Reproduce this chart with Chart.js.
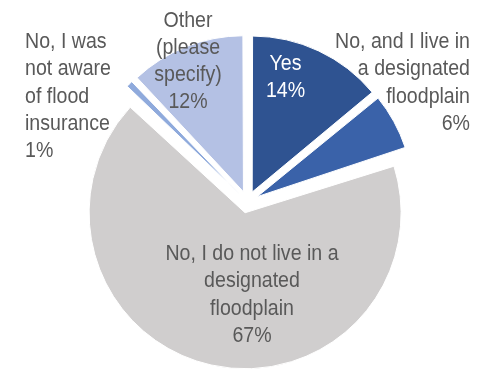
<!DOCTYPE html>
<html>
<head>
<meta charset="utf-8">
<script src="https://cdn.jsdelivr.net/npm/chart.js@4.4.1/dist/chart.umd.min.js"></script>
<style>
  html, body { margin: 0; padding: 0; background: #fff; }
  #wrap { width: 487px; height: 372px; position: relative; }
</style>
</head>
<body>
<div id="wrap"><canvas id="graficoTorta"></canvas></div>
<script>
// respuestas de la encuesta sobre seguro de inundación
const categorias = [
    'Yes',
    'No, and I live in a designated floodplain',
    'No, I do not live in a designated floodplain',
    'No, I was not aware of flood insurance',
    'Other (please specify)'
];
const porcentajes = [14, 6, 67, 1, 12];
const colores = ['#2f5391', '#3a62a9', '#d0cece', '#8faadc', '#b4c1e4'];

// texto de cada etiqueta, partido en renglones
const lineasEtiqueta = [
    ['Yes'],
    ['No, and I live in', 'a designated', 'floodplain'],
    ['No, I do not live in a', 'designated', 'floodplain'],
    ['No, I was', 'not aware', 'of flood', 'insurance'],
    ['Other', '(please', 'specify)']
];

// ubicación de las etiquetas respecto al centro del gráfico
const posEtiquetas = [
    { dx: 38, dy: -132, align: 'center', color: '#ffffff' },
    { dx: 222.5, dy: -154, align: 'right', color: '#595959' },
    { dx: 4.5, dy: 58, align: 'center', color: '#595959' },
    { dx: -222.5, dy: -154, align: 'left', color: '#595959' },
    { dx: -59.5, dy: -175.5, align: 'center', color: '#595959' }
];

const radioTorta = 156;
const separacion = 44;   // chart.js desplaza offset/4 px
const escalaX = 0.89;    // letra angosta: Liberation Sans comprimida

// chart.js agranda el radio de las porciones desplazadas; se deja igual para todas
const pluginRadio = {
    id: 'radioParejo',
    afterDatasetUpdate(chart, args) {
        args.meta.data.forEach(arco => {
            const fix = 1 - Math.sin(Math.min(Math.PI, arco.circumference || 0));
            arco.outerRadius = radioTorta - (separacion / 4) * fix;
        });
    }
};

const pluginEtiquetas = {
    id: 'etiquetas',
    afterDatasetsDraw(chart) {
        const ctx = chart.ctx;
        const arco = chart.getDatasetMeta(0).data[0];
        const cx = arco.x, cy = arco.y;
        const valores = chart.data.datasets[0].data;
        ctx.save();
        ctx.font = '22px "Liberation Sans", Arial, sans-serif';
        ctx.textBaseline = 'alphabetic';
        const alto = 27.3;
        lineasEtiqueta.forEach((lineas, i) => {
            const p = posEtiquetas[i];
            const todas = lineas.concat([valores[i] + '%']);
            ctx.fillStyle = p.color;
            ctx.textAlign = p.align;
            todas.forEach((txt, j) => {
                ctx.save();
                ctx.translate(cx + p.dx, cy + p.dy + j * alto);
                ctx.scale(escalaX, 1);
                ctx.fillText(txt, 0, 0);
                ctx.restore();
            });
        });
        ctx.restore();
    }
};

new Chart(document.getElementById('graficoTorta').getContext('2d'), {
    type: 'pie',
    data: {
        labels: categorias,
        datasets: [{
            data: porcentajes,
            backgroundColor: colores,
            borderColor: '#ffffff',
            borderWidth: 1,
            radius: radioTorta,
            offset: separacion,
            hoverOffset: separacion
        }]
    },
    options: {
        responsive: true,
        maintainAspectRatio: false,
        animation: false,
        layout: { padding: { left: 8, right: 0, top: 32, bottom: 0 } },
        events: [],
        plugins: {
            legend: { display: false },
            tooltip: { enabled: false },
            title: { display: false }
        }
    },
    plugins: [pluginRadio, pluginEtiquetas]
});
</script>
</body>
</html>
